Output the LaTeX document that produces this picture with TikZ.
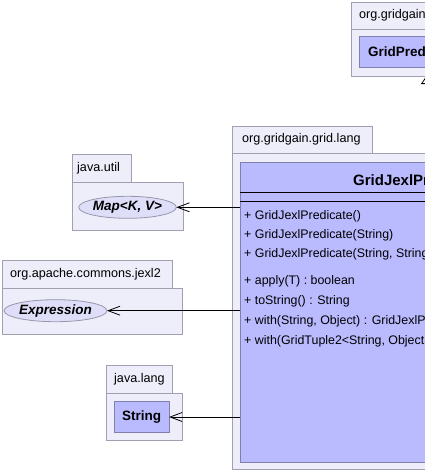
\documentclass[tikz,border=0pt]{standalone}
\usepackage{fontspec}
\setmainfont{Liberation Sans}
\usetikzlibrary{arrows.meta,shapes.geometric}
\definecolor{pkgfill}{RGB}{238,238,251}
\definecolor{pkgline}{RGB}{160,160,178}
\definecolor{clsfill}{RGB}{186,186,255}
\definecolor{clsline}{RGB}{128,128,176}
\definecolor{ifcfill}{RGB}{222,222,249}
\definecolor{ifcline}{RGB}{150,150,172}
\begin{document}
\begin{tikzpicture}[x=1pt,y=-1pt,
 pkgbox/.style={draw=pkgline, fill=pkgfill, line width=0.8pt, anchor=north west, inner sep=0pt, outer sep=0pt},
 tabtext/.style={font=\fontsize{12.6}{14}\selectfont, anchor=west, inner sep=0pt},
 clsbox/.style={draw=clsline, fill=clsfill, line width=0.8pt, anchor=north west, inner sep=0pt, outer sep=0pt},
 ifc/.style={ellipse, draw=ifcline, fill=ifcfill, line width=0.8pt, inner sep=0pt, outer sep=0pt, font=\fontsize{13.5}{15}\selectfont\bfseries\itshape},
 clsname/.style={font=\fontsize{13.5}{15}\selectfont\bfseries, anchor=west, inner sep=0pt},
 member/.style={font=\fontsize{12.4}{14}\selectfont, anchor=west, inner sep=0pt},
 dep/.style={line width=0.8pt, -{Straight Barb[length=12pt,width=9pt,line width=0.8pt]}},
 gen/.style={line width=0.8pt, -{Triangle[open,length=7.5pt,width=10pt,line width=0.8pt]}},
]
\useasboundingbox (0,0) rectangle (425,471);
\clip (0,0) rectangle (425,471);
\fill[white] (0,0) rectangle (425,471);

% top package
\node[pkgbox, minimum width=140pt, minimum height=27pt] (ttab) at (351,2) {};
\node[tabtext] (ttabt) at (359,15.5) {org.gridgain};
\node[pkgbox, minimum width=200pt, minimum height=47pt] (tbody) at (351,29) {};
\node[clsbox, minimum width=200pt, minimum height=31pt] (gp) at (359,36) {};
\node[clsname] (gpt) at (368,52) {GridPredicate};

% main package
\node[pkgbox, minimum width=140pt, minimum height=27pt] (mtab) at (232,126) {};
\node[tabtext] (mtabt) at (242,139.5) {org.gridgain.grid.lang};
\node[pkgbox, minimum width=300pt, minimum height=316pt] (mbody) at (232,153) {};
\node[clsbox, minimum width=300pt, minimum height=300pt] (gjp) at (240,162) {};
\node[clsname, font=\fontsize{15}{17}\selectfont\bfseries] (gjpt) at (353,180) {GridJexlPredicate};
\coordinate (l1a) at (240,192.7);
\coordinate (l1b) at (540,192.7);
\coordinate (l2a) at (240,201.7);
\coordinate (l2b) at (540,201.7);
\draw[line width=0.8pt] (l1a) -- (l1b);
\draw[line width=0.8pt] (l2a) -- (l2b);
\node[member] (m1) at (244,216.5) {+ GridJexlPredicate()};
\node[member] (m2) at (244,235.5) {+ GridJexlPredicate(String)};
\node[member] (m3) at (244,254.5) {+ GridJexlPredicate(String, String};
\node[member] (m4) at (244,281.5) {+ apply(T) : boolean};
\node[member] (m5) at (244,301.5) {+ toString() : String};
\node[member] (m6) at (244,321.5) {+ with(String, Object) : GridJexlPredicate};
\node[member] (m7) at (244,341) {+ with(GridTuple2<String, Object};

% generalization tip
\coordinate (gfoot) at (426,153);
\coordinate (gtip) at (426,76.5);
\draw[gen] (gfoot) -- (gtip);

% java.util
\node[pkgbox, minimum width=59pt, minimum height=28pt] (utab) at (72,154) {};
\node[tabtext] (utabt) at (77,168) {java.util};
\node[pkgbox, minimum width=111pt, minimum height=48pt] (ubody) at (72,182) {};
\node[ifc, minimum width=93pt, minimum height=22pt] (map) at (127.5,207.3) {Map<K, V>};

% org.apache.commons.jexl2
\node[pkgbox, minimum width=170pt, minimum height=28pt] (etab) at (2,260) {};
\node[tabtext] (etabt) at (10,274) {org.apache.commons.jexl2};
\node[pkgbox, minimum width=180pt, minimum height=46pt] (ebody) at (2,288) {};
\node[ifc, minimum width=94pt, minimum height=22pt] (expr) at (55.5,310.7) {Expression};

% java.lang
\node[pkgbox, minimum width=66pt, minimum height=28pt] (ltab) at (106,365) {};
\node[tabtext] (ltabt) at (114,379) {java.lang};
\node[pkgbox, minimum width=76pt, minimum height=47pt] (lbody) at (106,393) {};
\node[clsbox, minimum width=55pt, minimum height=31pt] (str) at (114,401.5) {};
\node[clsname] (strt) at (122,417) {String};

% dependencies
\draw[dep] (gjp.west |- map.east) -- (map.east);
\draw[dep] (gjp.west |- expr.east) -- (expr.east);
\draw[dep] (gjp.west |- str.east) -- (str.east);
\end{tikzpicture}
\end{document}
